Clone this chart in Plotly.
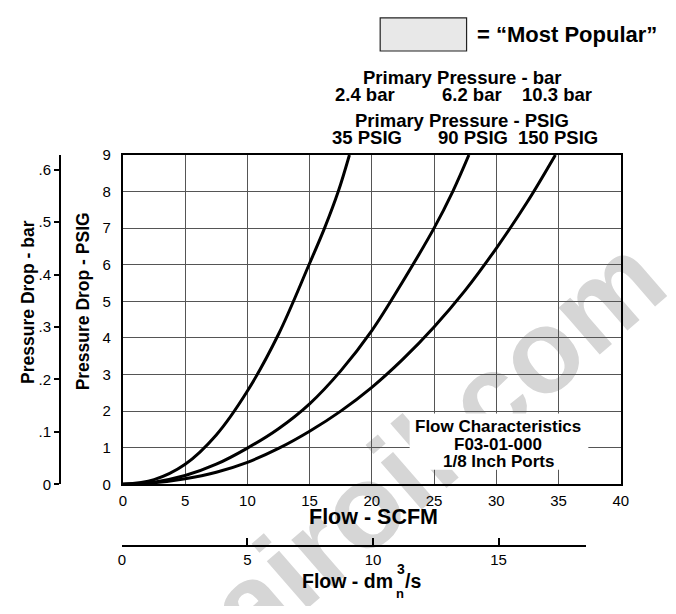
import plotly.graph_objects as go

# ---------------- data ----------------
flow_35 = [0, 2.5, 5, 7.5, 10, 12.5, 14.95, 16.2, 17.3, 18.2]
psi_35 = [0, 0.13, 0.55, 1.35, 2.55, 4.1, 6.0, 7.0, 8.0, 9.0]

flow_90 = [0, 2.5, 5, 7.5, 10, 12.5, 15, 17.5, 20, 22.5, 25, 26.5, 27.8]
psi_90 = [0, 0.06, 0.24, 0.55, 0.99, 1.52, 2.2, 3.1, 4.2, 5.55, 7.0, 8.0, 9.0]

flow_150 = [0, 2.5, 5, 7.5, 10, 12.5, 15, 17.5, 20, 22.5, 25, 27.5, 30, 32.5, 34.75]
psi_150 = [0, 0.04, 0.15, 0.33, 0.6, 0.98, 1.45, 2.0, 2.65, 3.42, 4.3, 5.3, 6.45, 7.72, 9.0]

x_ticks = [0, 5, 10, 15, 20, 25, 30, 35, 40]
y_ticks = [0, 1, 2, 3, 4, 5, 6, 7, 8, 9]
bar_ticks = [0, 0.1, 0.2, 0.3, 0.4, 0.5, 0.6]
bar_labels = ["0", ".1", ".2", ".3", ".4", ".5", ".6"]
dm_ticks = [0, 5, 10, 15]

bar_header = ["2.4 bar", "6.2 bar", "10.3 bar"]
psig_header = ["35 PSIG", "90 PSIG", "150 PSIG"]
note_lines = ["Flow Characteristics", "F03-01-000", "1/8 Inch Ports"]

# ---------------- layout helpers ----------------
# The page body keeps its default 8px margin, so the figure is sized to fit
# inside the 676x614 window and positions are given in window pixels.
OFF = 8
W, H = 676 - 2 * OFF, 614 - 2 * OFF
FONT = "Liberation Sans, Arial, Helvetica, sans-serif"


def PX(x):
    return (x - OFF) / W


def PY(y):
    return 1 - (y - OFF) / H


fig = go.Figure()
for fx, fy in [(flow_35, psi_35), (flow_90, psi_90), (flow_150, psi_150)]:
    fig.add_trace(go.Scatter(x=fx, y=fy, mode="lines",
                             line=dict(color="black", width=3, shape="spline", smoothing=1.0),
                             hoverinfo="skip", showlegend=False))

# dummy traces so the secondary axes exist
fig.add_trace(go.Scatter(x=[0], y=[0], yaxis="y2", mode="markers",
                         marker=dict(opacity=0), hoverinfo="skip", showlegend=False))
fig.add_trace(go.Scatter(x=[0], y=[0], xaxis="x2", yaxis="y3", mode="markers",
                         marker=dict(opacity=0), hoverinfo="skip", showlegend=False))

tickfont = dict(family=FONT, size=15, color="black")

fig.update_layout(
    width=W, height=H, autosize=False,
    margin=dict(l=0, r=0, t=0, b=0, pad=0),
    paper_bgcolor="white", plot_bgcolor="white",
    showlegend=False,
    font=dict(family=FONT, color="black"),
    xaxis=dict(domain=[PX(121), PX(628)], range=[0, 40], tickvals=x_ticks,
               showgrid=True, gridcolor="#555555", gridwidth=1,
               showline=True, linecolor="black", linewidth=2, mirror=True,
               zeroline=False, ticks="", tickfont=tickfont, ticklabelstandoff=2,
               anchor="y", fixedrange=True),
    yaxis=dict(domain=[PY(489), PY(150)], range=[0, 9], tickvals=y_ticks,
               showgrid=True, gridcolor="#555555", gridwidth=1,
               showline=True, linecolor="black", linewidth=2, mirror=True,
               zeroline=False, ticks="", tickfont=tickfont, ticklabelstandoff=7,
               anchor="x", fixedrange=True),
    yaxis2=dict(overlaying="y", anchor="free", position=PX(57), side="left",
                range=[0, 0.628], tickvals=bar_ticks, ticktext=bar_labels,
                showgrid=False, zeroline=False, showline=True, linecolor="black",
                linewidth=2, ticks="outside", ticklen=5, tickwidth=1.5,
                tickcolor="black", tickfont=tickfont, fixedrange=True),
    xaxis2=dict(domain=[PX(120), PX(593)], anchor="free", position=PY(552),
                range=[0, 18.5], tickvals=dm_ticks, showgrid=False, zeroline=False,
                showline=True, linecolor="black", linewidth=2,
                ticks="inside", ticklen=7, tickwidth=1.5, tickcolor="black",
                tickfont=tickfont, fixedrange=True),
    yaxis3=dict(domain=[PY(560), PY(556)], visible=False, anchor="x2", fixedrange=True),
)

shapes = [
    # watermark (below grid)
    dict(type="rect", xref="paper", yref="paper",
         x0=PX(332), x1=PX(532), y0=PY(538), y1=PY(338),
         line=dict(width=0), fillcolor="rgba(0,0,0,0)", layer="below",
         label=dict(text="airoil.com", textangle=-41, textposition="middle center",
                    font=dict(family=FONT, size=118, color="#d6d6d6", weight="bold"))),
    # legend swatch
    dict(type="rect", xref="paper", yref="paper",
         x0=PX(383), x1=PX(471), y0=PY(43), y1=PY(9),
         line=dict(color="#222222", width=1.2), fillcolor="#e8e8e8", layer="above"),
    # white box behind note
    dict(type="rect", xref="paper", yref="paper",
         x0=PX(413), x1=PX(595), y0=PY(474), y1=PY(416),
         line=dict(width=0), fillcolor="white", layer="above"),
]
fig.update_layout(shapes=shapes)


def ann(text, x, y, size, bold=True, xanchor="center", yanchor="middle", angle=0):
    fig.add_annotation(text=text, x=PX(x), y=PY(y), xref="paper", yref="paper",
                       xanchor=xanchor, yanchor=yanchor, showarrow=False, textangle=angle,
                       font=dict(family=FONT, size=size, color="black",
                                 weight="bold" if bold else "normal"))


ann("= \u201cMost Popular\u201d", 480, 26, 22, xanchor="left")
ann("Primary Pressure - bar", 466, 70, 18.5)
for t, cx in zip(bar_header, [368, 477, 563]):
    ann(t, cx, 88, 18.5)
ann("Primary Pressure - PSIG", 466, 115, 18.5)
for t, cx in zip(psig_header, [370, 478, 564]):
    ann(t, cx, 132, 18.5)

ann("Pressure Drop - PSIG", 80, 301, 17.5, angle=-90)
ann("Pressure Drop - bar", 23.5, 301, 17.5, angle=-90)

ann("Flow - SCFM", 376, 523, 21.5)
ann("Flow - dm", 398, 589, 19.5, xanchor="right")
ann("/s", 406, 589, 19.5, xanchor="left")
ann("3", 404, 576, 14)
ann("n", 403, 601, 13)

for t, cy in zip(note_lines, [429.5, 447.5, 465.5]):
    ann(t, 503, cy, 17)

fig.write_html("out.html", config={"displayModeBar": False})
